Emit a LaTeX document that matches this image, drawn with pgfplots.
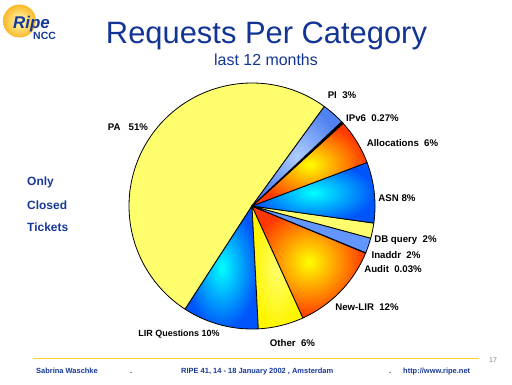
\documentclass[border=0pt]{standalone}
\usepackage{pgfplots}
\pgfplotsset{compat=1.18}
\usepackage{fontspec}
\setmainfont{Liberation Sans}
\definecolor{ripeblue}{RGB}{22,56,150}
\definecolor{titleblue}{RGB}{18,52,148}
\definecolor{paleY}{RGB}{255,255,110}
\definecolor{brightY}{RGB}{255,245,0}
\definecolor{hotR}{RGB}{255,55,0}
\definecolor{cyanC}{RGB}{0,255,255}
\definecolor{blueO}{RGB}{0,85,250}
\definecolor{ltblueI}{RGB}{175,205,255}
\definecolor{ltblueO}{RGB}{80,130,240}
\definecolor{inaddrB}{RGB}{100,150,255}
\definecolor{footY}{RGB}{255,210,40}
\definecolor{logoIn}{RGB}{255,252,190}
\definecolor{logoOut}{RGB}{250,185,40}
\begin{document}
\begin{tikzpicture}[x=1bp,y=1bp]
\path[use as bounding box] (0,0) rectangle (512,384);
% slice values (percent): PA 51, LIR Questions 10, Other 6, New-LIR 12, Audit 0.03,
% Inaddr 2, DB query 2, ASN 8, Allocations 6, IPv6 0.27, PI 3  (sum 100.3)
\pgfmathsetmacro\kf{360/100.3}
\pgfmathsetmacro\aA{54}
\pgfmathsetmacro\aB{\aA+51*\kf}
\pgfmathsetmacro\aC{\aB+10*\kf}
\pgfmathsetmacro\aD{\aC+6*\kf}
\pgfmathsetmacro\aE{\aD+12*\kf}
\pgfmathsetmacro\aF{\aE+0.03*\kf}
\pgfmathsetmacro\aG{\aF+2*\kf}
\pgfmathsetmacro\aH{\aG+2*\kf}
\pgfmathsetmacro\aI{\aH+8*\kf}
\pgfmathsetmacro\aJ{\aI+6*\kf}
\pgfmathsetmacro\aK{\aJ+0.27*\kf}
\pgfmathsetmacro\aL{\aK+3*\kf}
\begin{axis}[at={(252bp,178bp)}, anchor=center, x=123bp, y=123bp,
  xmin=-1.05, xmax=1.05, ymin=-1.05, ymax=1.05, hide axis, clip=false,
  every axis plot/.append style={draw=black, line width=0.8bp, line join=round}]
% PA
\addplot[fill=paleY, domain=\aA:\aB, samples=90] ({cos(x)},{sin(x)}) -- (axis cs:0,0) -- cycle;
% LIR Questions
\addplot[inner color=cyanC, outer color=blueO, draw=black, domain=\aB:\aC, samples=30] ({cos(x)},{sin(x)}) -- (axis cs:0,0) -- cycle;
% Other
\addplot[inner color=paleY, outer color=brightY, draw=black, domain=\aC:\aD, samples=30] ({cos(x)},{sin(x)}) -- (axis cs:0,0) -- cycle;
% New-LIR
\addplot[inner color=yellow, outer color=hotR, draw=black, domain=\aD:\aE, samples=30] ({cos(x)},{sin(x)}) -- (axis cs:0,0) -- cycle;
% Audit
\addplot[fill=black, line width=1.2bp, domain=\aE:\aF, samples=2] ({cos(x)},{sin(x)}) -- (axis cs:0,0) -- cycle;
% Inaddr
\addplot[fill=inaddrB, domain=\aF:\aG, samples=10] ({cos(x)},{sin(x)}) -- (axis cs:0,0) -- cycle;
% DB query
\addplot[fill=paleY, domain=\aG:\aH, samples=10] ({cos(x)},{sin(x)}) -- (axis cs:0,0) -- cycle;
% ASN
\addplot[inner color=cyanC, outer color=blueO, draw=black, domain=\aH:\aI, samples=30] ({cos(x)},{sin(x)}) -- (axis cs:0,0) -- cycle;
% Allocations
\addplot[inner color=yellow, outer color=hotR, draw=black, domain=\aI:\aJ, samples=30] ({cos(x)},{sin(x)}) -- (axis cs:0,0) -- cycle;
% IPv6
\addplot[fill=black, line width=1.2bp, domain=\aJ:\aK, samples=3] ({cos(x)},{sin(x)}) -- (axis cs:0,0) -- cycle;
% PI
\addplot[inner color=ltblueI, outer color=ltblueO, draw=black, domain=\aK:\aL, samples=10] ({cos(x)},{sin(x)}) -- (axis cs:0,0) -- cycle;
\end{axis}
% pie labels
\begin{scope}[every node/.style={font=\bfseries\fontsize{9.7}{11}\selectfont, inner sep=0pt}]
\node at (128,257) {PA\ \ \ 51\%};
\node at (342,289) {PI\ \ 3\%};
\node at (372.5,266) {IPv6\ \ 0.27\%};
\node at (402.5,241) {Allocations\ \ 6\%};
\node at (397,186) {ASN 8\%};
\node at (405.5,144) {DB query\ \ 2\%};
\node at (396,129) {Inaddr\ \ 2\%};
\node at (393,115) {Audit\ \ 0.03\%};
\node at (367,77) {New-LIR\ \ 12\%};
\node at (292.5,41) {Other\ \ 6\%};
\node[font=\bfseries\fontsize{9}{11}\selectfont] at (179,50) {LIR Questions 10\%};
\end{scope}
% title
\node[anchor=base, text=titleblue, font=\fontsize{31}{36}\selectfont, inner sep=0pt] at (266.5,340.7) {Requests Per Category};
\node[anchor=base, text=titleblue, font=\fontsize{16}{19}\selectfont, inner sep=0pt] at (266,319) {last 12 months};
% left notes
\begin{scope}[every node/.style={anchor=base west, text=ripeblue, font=\bfseries\fontsize{12}{14}\selectfont, inner sep=0pt}]
\node at (27,198.3) {Only};
\node at (27,175) {Closed};
\node at (27,153) {Tickets};
\end{scope}
% logo
\shade[inner color=logoIn, outer color=logoOut] (19.5,363) circle (16.5);
\node[anchor=base west, text=ripeblue, font=\bfseries\itshape\fontsize{17}{19}\selectfont, inner sep=0pt] at (13,356) {Ripe};
\node[anchor=base west, text=ripeblue, font=\bfseries\fontsize{10.5}{12}\selectfont, inner sep=0pt] at (33,345) {NCC};
% footer
\draw[footY, line width=1bp] (33,25.7) -- (479,25.7);
\node[anchor=center, text=gray, font=\fontsize{7}{8}\selectfont, inner sep=0pt] at (493,23.5) {17};
\begin{scope}[every node/.style={anchor=base west, text=ripeblue, font=\bfseries\fontsize{7.5}{9}\selectfont, inner sep=0pt}]
\node at (36,10.5) {Sabrina Waschke};
\node at (130,10.5) {.};
\node at (181,10.5) {RIPE 41, 14 - 18 January 2002 , Amsterdam};
\node at (389,10.5) {.};
\node at (403,10.5) {http://www.ripe.net};
\end{scope}
\end{tikzpicture}
\end{document}
